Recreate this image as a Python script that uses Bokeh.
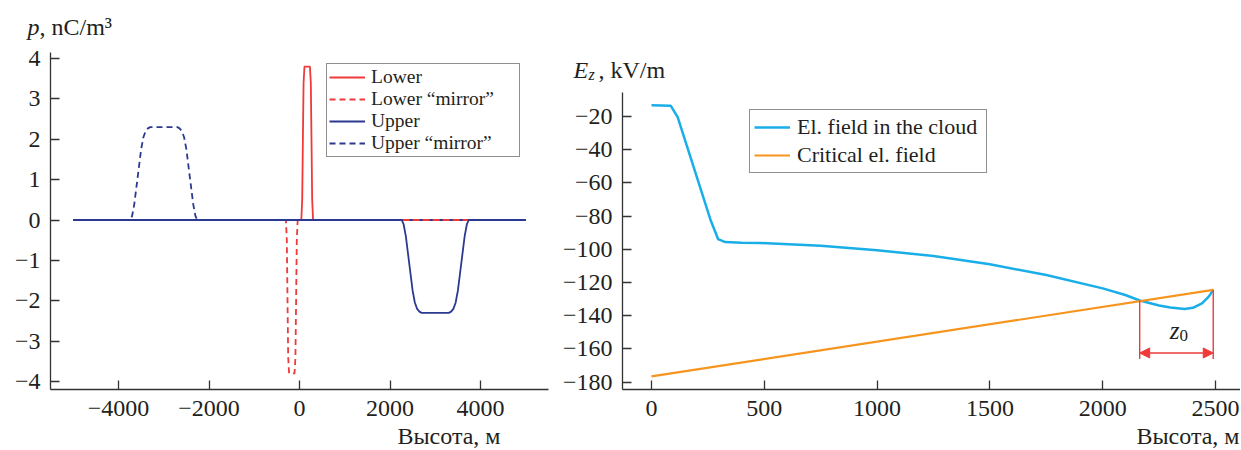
from bokeh.plotting import figure
from bokeh.layouts import row
from bokeh.models import Legend, LegendItem, Label, Arrow, NormalHead, Range1d
from bokeh.embed import file_html
from bokeh.resources import INLINE

FONT = "Liberation Serif"
TXT = "#231f20"
AXC = "#333333"
RED = "#ee3a3a"
NAVY = "#2b3990"
BLUE = "#1aaee8"
ORANGE = "#f7941d"

# ---------------- left panel data (charge density, nC/m^3) ----------------
lower_x = [-5000, 40, 60, 75, 90, 110, 230, 250, 265, 280, 300, 5000]
lower_y = [0, 0, 0.5, 2.0, 3.4, 3.8, 3.8, 3.4, 2.0, 0.5, 0, 0]

lower_m_x = [-5000, -300, -280, -265, -250, -230, -110, -90, -75, -60, -40, 5000]
lower_m_y = [0, 0, -0.5, -2.0, -3.4, -3.8, -3.8, -3.4, -2.0, -0.5, 0, 0]

upper_x = [-5000, 2260, 2300, 2350, 2400, 2450, 2500, 2550, 2600, 2650, 2700,
           3300, 3350, 3400, 3450, 3500, 3550, 3600, 3650, 3700, 3740, 5000]
upper_y = [0, 0, -0.1, -0.4, -0.85, -1.3, -1.75, -2.05, -2.2, -2.27, -2.3,
           -2.3, -2.27, -2.2, -2.05, -1.75, -1.3, -0.85, -0.4, -0.1, 0, 0]

upper_m_x = [-5000, -3740, -3700, -3650, -3600, -3550, -3500, -3450, -3400, -3350, -3300,
             -2700, -2650, -2600, -2550, -2500, -2450, -2400, -2350, -2300, -2260, 5000]
upper_m_y = [0, 0, 0.1, 0.4, 0.85, 1.3, 1.75, 2.05, 2.2, 2.27, 2.3,
             2.3, 2.27, 2.2, 2.05, 1.75, 1.3, 0.85, 0.4, 0.1, 0, 0]

left_xticks = [-4000, -2000, 0, 2000, 4000]
left_yticks = [-4, -3, -2, -1, 0, 1, 2, 3, 4]

# ---------------- right panel data (field, kV/m) ----------------
field_x = [0, 85, 116, 160, 200, 240, 261, 295, 327, 400, 482, 750, 1000, 1250,
           1500, 1750, 2000, 2100, 2164, 2250, 2300, 2363, 2400, 2440, 2470, 2490]
field_y = [-13.3, -13.5, -20.4, -39, -56, -73, -82, -93.8, -95.6, -96.0, -96.2, -97.8,
           -100.5, -104, -109, -115.5, -123.5, -127.5, -130.8, -133.8, -135.0, -135.9,
           -135.2, -132.5, -128.5, -124.4]

crit_x = [0, 2490]
crit_y = [-176.5, -124.4]

right_xticks = [0, 500, 1000, 1500, 2000, 2500]
right_yticks = [-20, -40, -60, -80, -100, -120, -140, -160, -180]

z0_x = [2164, 2490]          # crossing point and top of the cloud
z0_top = [-130.8, -124.4]
z0_bottom = -166
z0_arrow_y = -162.4

# ---------------- page geometry (pixels) ----------------
W1, W2, H = 562, 678, 449
PAGE = 0
FIX = 10   # label baseline correction (labels render ~10px lower than asked)


def lin_range(d0, p0, d1, p1, lo, hi):
    """data range whose ends fall on pixel positions lo/hi, given two anchor pairs"""
    k = (p1 - p0) / (d1 - d0)
    return d0 + (lo - p0) / k, d0 + (hi - p0) / k


def minus(v):
    return str(v).replace("-", "\u2212")


def style_axes(p, xt, yt, xloc, yloc, xb, yb):
    for ax, ticks in ((p.xaxis, xt), (p.yaxis, yt)):
        ax.ticker = ticks
        ax.major_label_overrides = {t: minus(t) for t in ticks}
        ax.axis_line_color = AXC
        ax.axis_line_width = 1.3
        ax.major_tick_line_color = AXC
        ax.major_tick_line_width = 1.3
        ax.major_tick_in = 9
        ax.major_tick_out = 0
        ax.minor_tick_line_color = None
        ax.major_label_text_font = FONT
        ax.major_label_text_font_size = "24px"
        ax.major_label_text_color = TXT
    p.xaxis.fixed_location = xloc
    p.yaxis.fixed_location = yloc
    p.xaxis.bounds = xb
    p.yaxis.bounds = yb
    p.xaxis.major_label_standoff = 11
    p.yaxis.major_label_standoff = 10
    p.xgrid.visible = False
    p.ygrid.visible = False
    p.outline_line_color = None


def lab(p, x, y, text, size="23px", style="normal", align="left"):
    p.add_layout(Label(x=x, y=y + FIX, x_units="screen", y_units="screen", text=text,
                       text_font=FONT, text_font_size=size, text_font_style=style,
                       text_align=align, text_baseline="alphabetic", text_color=TXT))


def style_legend(leg, size, gh, gw, lw, standoff, spacing, padding):
    leg.label_text_font = FONT
    leg.label_text_font_size = size
    leg.label_text_color = TXT
    leg.glyph_width = gw
    leg.glyph_height = gh
    leg.label_height = gh
    leg.label_width = lw
    leg.label_standoff = standoff
    leg.spacing = spacing
    leg.padding = padding
    leg.margin = 0
    leg.border_line_color = TXT
    leg.border_line_width = 1.2
    leg.background_fill_color = "white"
    leg.background_fill_alpha = 1


# ---------------- left figure: frame covers whole canvas
L0, R0 = PAGE, PAGE + W1
T0, B0 = PAGE, PAGE + H
# reference: x=-4000 at px 118, x=4000 at px 480; y=4 at px 58, y=-4 at px 381
lx = lin_range(-4000, 118, 4000, 480, L0, R0)
ly = lin_range(4, -58, -4, -381, -B0, -T0)
lx_ax = lin_range(-4000, 118, 4000, 480, 50, 548)
ly_ax = lin_range(4, -58, -4, -381, -389, -52)

p1 = figure(width=W1, height=H, output_backend="svg", toolbar_location=None,
            x_range=Range1d(*lx), y_range=Range1d(*ly),
            min_border_left=0, min_border_right=0, min_border_top=0, min_border_bottom=0)
style_axes(p1, left_xticks, left_yticks, ly_ax[0], lx_ax[0], lx_ax, ly_ax)

r_low = p1.line(lower_x, lower_y, line_color=RED, line_width=1.8)
r_upm = p1.line(upper_m_x, upper_m_y, line_color=NAVY, line_width=1.8, line_dash="6 4")
r_lowm = p1.line(lower_m_x, lower_m_y, line_color=RED, line_width=1.8, line_dash="6 4")
r_up = p1.line(upper_x, upper_y, line_color=NAVY, line_width=1.8)

leg1 = Legend(items=[LegendItem(label="Lower", renderers=[r_low]),
                     LegendItem(label="Lower \u201cmirror\u201d", renderers=[r_lowm]),
                     LegendItem(label="Upper", renderers=[r_up]),
                     LegendItem(label="Upper \u201cmirror\u201d", renderers=[r_upm])],
              location=(326 - L0, B0 - 157))
style_legend(leg1, "19.5px", 18, 36, 146, 6, 0, 2)
p1.add_layout(leg1)

lab(p1, 27 - L0, B0 - 36, "p", size="24px", style="italic")
lab(p1, 39 - L0, B0 - 36, ", nC/m\u00b3", size="24px")
lab(p1, 500 - L0, B0 - 445, "Высота, м", size="24px", align="right")

# ---------------- right figure
L1, R1 = PAGE + W1, PAGE + W1 + W2
# x=0 at px 651, x=2500 at px 1215; y=-20 at px 116, y=-180 at px 381.7
rx = lin_range(0, 651, 2500, 1215, L1, R1)
ry = lin_range(-20, -116, -180, -381.7, -B0, -T0)
rx_ax = lin_range(0, 651, 2500, 1215, 622, R1)
ry_ax = lin_range(-20, -116, -180, -381.7, -389.3, -92)

p2 = figure(width=W2, height=H, output_backend="svg", toolbar_location=None,
            x_range=Range1d(*rx), y_range=Range1d(*ry),
            min_border_left=0, min_border_right=0, min_border_top=0, min_border_bottom=0)
style_axes(p2, right_xticks, right_yticks, ry_ax[0], rx_ax[0], rx_ax, ry_ax)

r_field = p2.line(field_x, field_y, line_color=BLUE, line_width=2.5)
r_crit = p2.line(crit_x, crit_y, line_color=ORANGE, line_width=2.2)

p2.segment(x0=z0_x, y0=z0_top, x1=z0_x, y1=[z0_bottom, z0_bottom], line_color=RED, line_width=1.4)
p2.add_layout(Arrow(x_start=z0_x[0], y_start=z0_arrow_y, x_end=z0_x[1], y_end=z0_arrow_y,
                    line_color=RED, line_width=1.6,
                    start=NormalHead(size=10, fill_color=RED, line_color=RED),
                    end=NormalHead(size=10, fill_color=RED, line_color=RED)))
zmid = (z0_x[0] + z0_x[1]) / 2
p2.add_layout(Label(x=zmid, y=-154.8, text="z", text_font=FONT, text_font_size="25px",
                    text_font_style="italic", text_align="right", text_baseline="alphabetic",
                    x_offset=3, y_offset=FIX, text_color=TXT))
p2.add_layout(Label(x=zmid, y=-154.8, text="0", text_font=FONT, text_font_size="17px",
                    text_align="left", text_baseline="alphabetic", x_offset=3, y_offset=FIX - 5,
                    text_color=TXT))

leg2 = Legend(items=[LegendItem(label="El. field in the cloud", renderers=[r_field]),
                     LegendItem(label="Critical el. field", renderers=[r_crit])],
              location=(749 - L1, B0 - 173))
style_legend(leg2, "22px", 24, 36, 185, 7, 2, 4)
p2.add_layout(leg2)

lab(p2, 573 - L1, B0 - 79, "E", size="24px", style="italic")
lab(p2, 588 - L1, B0 - 84, "z", size="16px", style="italic")
lab(p2, 598 - L1, B0 - 79, ", kV/m", size="24px")
lab(p2, 1239 - L1, B0 - 445, "Высота, м", size="24px", align="right")

layout = row(p1, p2)
open("out.html", "w").write(file_html(layout, INLINE))
